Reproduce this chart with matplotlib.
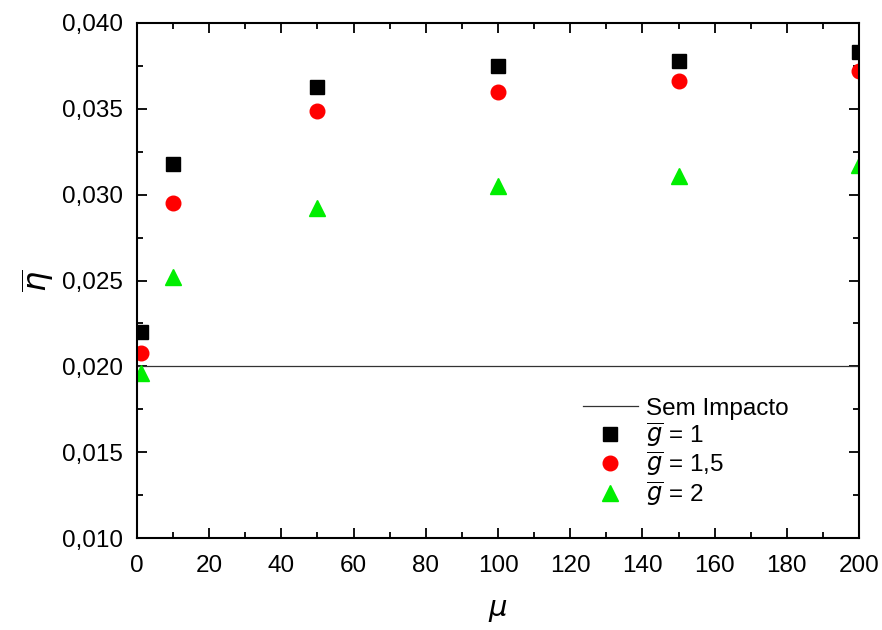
import numpy as np
import matplotlib.pyplot as plt
from matplotlib.ticker import MultipleLocator, FuncFormatter

plt.rcParams['font.family'] = ['Liberation Sans', 'DejaVu Sans']
plt.rcParams['mathtext.fontset'] = 'dejavusans'

# Data
mu = [1, 10, 50, 100, 150, 200]
eta_g1 = [0.0220, 0.0318, 0.0363, 0.0375, 0.0378, 0.0383]
eta_g15 = [0.0208, 0.0295, 0.0349, 0.0360, 0.0366, 0.0372]
eta_g2 = [0.0196, 0.0252, 0.0292, 0.0305, 0.0311, 0.0317]
sem_impacto = 0.020

fig = plt.figure(figsize=(8.82, 6.3), dpi=100)
ax = fig.add_axes([0.1553, 0.146, 0.8187, 0.8175])

# Reference line (no impact)
ax.axhline(sem_impacto, color='#333333', linewidth=0.9, label='Sem Impacto')

ax.plot(mu, eta_g1, 's', color='black', markersize=10, linestyle='none',
        label=r'$\overline{g}$ = 1')
ax.plot(mu, eta_g15, 'o', color='red', markersize=10.5, linestyle='none',
        label=r'$\overline{g}$ = 1,5')
ax.plot(mu, eta_g2, '^', color='#00ee00', markersize=11, linestyle='none',
        label=r'$\overline{g}$ = 2')

ax.set_xlim(0, 200)
ax.set_ylim(0.010, 0.040)
ax.xaxis.set_major_locator(MultipleLocator(20))
ax.xaxis.set_minor_locator(MultipleLocator(10))
ax.yaxis.set_major_locator(MultipleLocator(0.005))
ax.yaxis.set_minor_locator(MultipleLocator(0.0025))
ax.yaxis.set_major_formatter(FuncFormatter(lambda v, p: f'{v:.3f}'.replace('.', ',')))

ax.tick_params(which='both', direction='in', top=True, right=True, width=1.3)
ax.tick_params(which='major', length=7, labelsize=17.5)
ax.tick_params(axis='x', which='major', pad=12)
ax.tick_params(axis='y', which='major', pad=10)
ax.tick_params(which='minor', length=4)
for s in ax.spines.values():
    s.set_linewidth(1.5)

ax.set_xlabel(r'$\mu$', fontsize=21, labelpad=14)
ax.set_ylabel(r'$\overline{\eta}$', fontsize=23, labelpad=4)

ax.legend(loc='upper left', bbox_to_anchor=(0.617, 0.272), frameon=False,
          fontsize=17.5, handlelength=2.3, handletextpad=0.3, labelspacing=0.05,
          borderpad=0, borderaxespad=0)

fig.savefig('out.png', dpi=100)
